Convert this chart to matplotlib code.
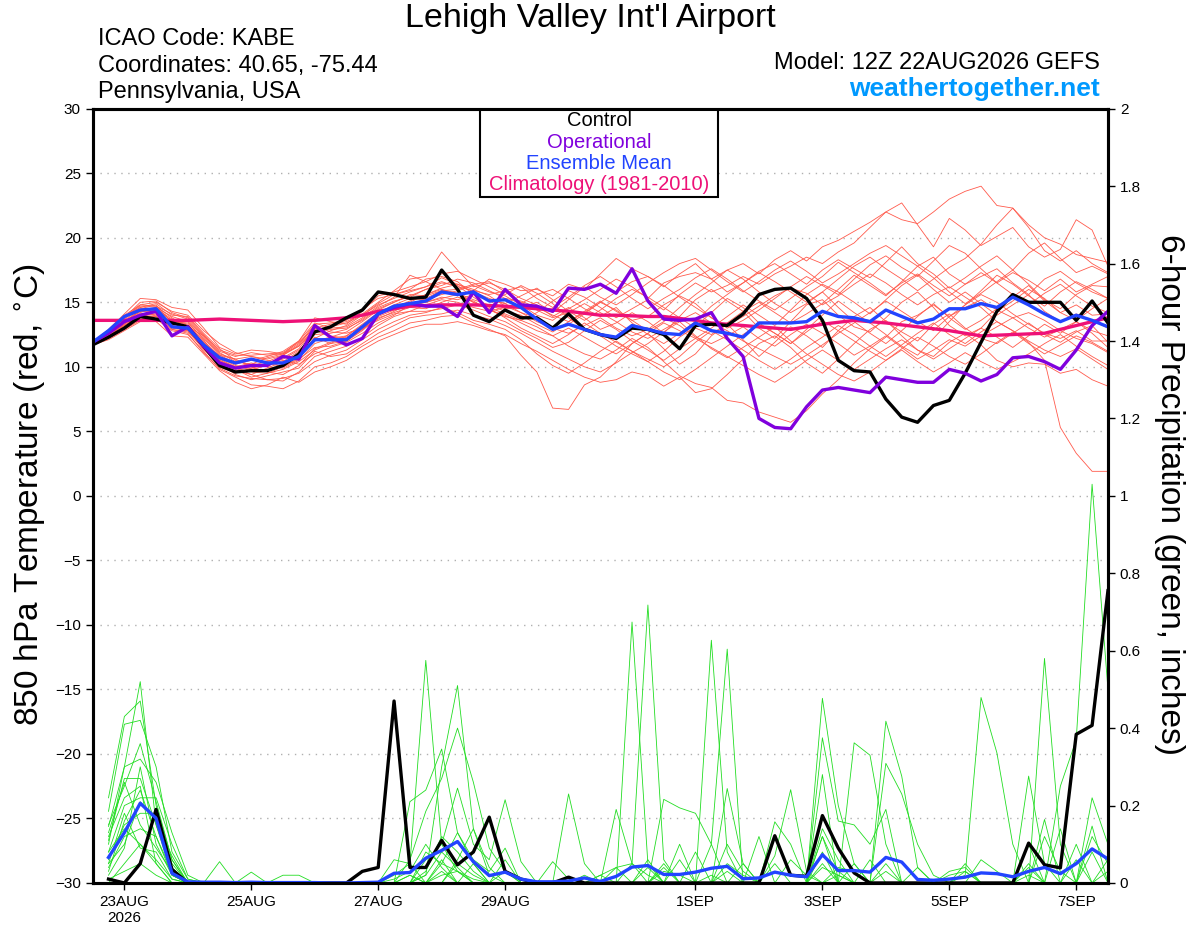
import numpy as np
import matplotlib
matplotlib.use('Agg')
import matplotlib.pyplot as plt
from matplotlib.patches import Rectangle
from matplotlib.ticker import FormatStrFormatter

plt.rcParams['font.family'] = ['Liberation Sans', 'DejaVu Sans']

# 6-hourly steps from 12Z 22AUG (x in days since then)
tick_days = [0.5, 2.5, 4.5, 6.5, 9.5, 11.5, 13.5, 15.5]
tick_labels = ['23AUG\n2026', '25AUG', '27AUG', '29AUG', '1SEP', '3SEP', '5SEP', '7SEP']

# 850 hPa temperature (C), 65 points: 22AUG 12Z .. 7SEP 12Z
control_t = [11.7, 12.3, 13.0, 13.9, 13.7, 13.4, 13.1, 11.6, 10.1, 9.6, 9.7, 9.7, 10.1,
             11.0, 12.7, 13.1, 13.8, 14.4, 15.8, 15.6, 15.3, 15.4, 17.5, 16.0, 14.0, 13.5,
             14.4, 13.8, 13.8, 13.0, 14.1, 12.9, 12.5, 12.2, 13.0, 12.9, 12.5, 11.4, 13.2,
             13.3, 13.2, 14.1, 15.6, 16.0, 16.1, 15.3, 13.6, 10.5, 9.7, 9.6, 7.5, 6.1,
             5.7, 7.0, 7.4, 9.5, 11.9, 14.3, 15.6, 15.0, 15.0, 15.0, 13.6, 15.1, 13.4]
oper_t = [11.9, 12.6, 13.5, 14.0, 14.3, 12.4, 13.1, 11.6, 10.3, 9.9, 10.1, 10.1, 10.8,
          10.6, 13.2, 12.3, 11.7, 12.2, 14.1, 14.6, 14.9, 14.7, 14.7, 13.9, 15.8, 14.2,
          16.0, 14.8, 14.7, 14.3, 16.1, 16.0, 16.4, 15.7, 17.6, 15.1, 13.7, 13.6, 13.7,
          14.2, 12.2, 10.8, 6.0, 5.3, 5.2, 6.9, 8.2, 8.4, 8.2, 8.0, 9.2, 9.0,
          8.8, 8.8, 9.8, 9.5, 8.9, 9.4, 10.7, 10.8, 10.4, 9.8, 11.3, 13.2, 14.3]
mean_t = [11.9, 12.8, 13.9, 14.4, 14.5, 13.1, 13.0, 11.7, 10.7, 10.3, 10.6, 10.3, 10.3,
          10.8, 12.1, 12.1, 12.1, 13.1, 14.1, 14.7, 14.9, 15.1, 15.8, 15.6, 15.8, 15.1,
          15.2, 14.6, 13.7, 12.9, 13.3, 12.9, 12.5, 12.3, 13.2, 12.9, 12.6, 12.5, 13.4,
          12.8, 12.6, 12.3, 13.4, 13.4, 13.4, 13.5, 14.3, 13.9, 13.8, 13.5, 14.4, 13.9,
          13.4, 13.7, 14.5, 14.5, 14.9, 14.6, 15.4, 14.8, 14.1, 13.5, 14.0, 13.6, 13.1]
clim_t = [13.6, 13.6, 13.6, 13.6, 13.6, 13.6, 13.6, 13.65, 13.7, 13.65, 13.6, 13.55, 13.5,
          13.55, 13.6, 13.7, 13.8, 14.0, 14.3, 14.5, 14.7, 14.75, 14.8, 14.8, 14.8, 14.75,
          14.7, 14.6, 14.5, 14.4, 14.3, 14.15, 14.0, 14.0, 13.95, 13.9, 13.9, 13.75, 13.6,
          13.4, 13.3, 13.2, 13.1, 13.0, 12.9, 13.1, 13.3, 13.45, 13.6, 13.5, 13.4, 13.25,
          13.1, 12.95, 12.8, 12.6, 12.4, 12.45, 12.5, 12.55, 12.6, 12.9, 13.2, 13.5, 13.8]

member_t = [
    [11.8, 12.5, 13.6, 14.5, 14.8, 13.4, 13.0, 11.9, 10.6, 10.0, 10.3, 10.0, 9.9,
     10.5, 11.8, 12.2, 12.4, 13.3, 14.2, 14.8, 15.3, 15.2, 15.6, 15.9, 16.3, 15.8,
     15.5, 14.8, 14.0, 13.6, 14.5, 15.2, 16.0, 16.8, 16.2, 15.3, 16.5, 17.0, 17.3,
     16.8, 17.5, 18.0, 17.2, 18.3, 19.0, 18.2, 19.3, 19.8, 20.5, 21.2, 22.0, 21.4,
     21.1, 22.0, 23.0, 23.6, 24.0, 22.5, 22.3, 21.0, 20.0, 19.5, 18.7, 18.4, 18.1],
    [11.9, 12.6, 13.8, 15.0, 15.1, 14.2, 13.8, 12.5, 11.2, 10.8, 11.1, 10.9, 11.0,
     11.6, 13.0, 13.3, 13.5, 14.1, 15.0, 15.9, 16.8, 17.0, 18.9, 17.5, 16.2, 16.5,
     16.0, 15.3, 14.8, 13.9, 14.6, 13.8, 12.9, 13.4, 14.2, 13.5, 12.6, 13.9, 15.2,
     16.0, 15.1, 14.3, 13.0, 12.2, 13.5, 14.8, 15.2, 14.0, 13.1, 12.7, 13.8, 15.0,
     15.8, 14.6, 13.2, 12.4, 13.0, 14.3, 15.1, 16.0, 15.3, 14.2, 13.6, 14.5, 15.3],
    [11.7, 12.2, 12.9, 13.6, 13.7, 12.8, 12.5, 11.2, 9.8, 9.2, 8.6, 8.5, 8.3,
     8.9, 10.0, 10.3, 10.8, 11.6, 12.3, 12.8, 13.4, 13.6, 13.9, 14.0, 13.4, 12.9,
     12.4, 10.9, 9.6, 6.8, 6.7, 8.6, 9.2, 10.4, 11.8, 12.6, 11.4, 10.2, 11.0,
     12.4, 13.3, 12.1, 10.8, 11.9, 13.1, 12.4, 11.5, 12.8, 13.9, 14.6, 13.5, 12.7,
     12.0, 13.3, 14.1, 13.0, 12.2, 11.8, 12.6, 13.4, 12.5, 11.9, 12.7, 13.2, 11.9],
    [11.8, 12.4, 13.3, 14.2, 14.6, 13.9, 13.5, 12.1, 10.4, 9.7, 9.4, 9.9, 10.4,
     11.2, 12.5, 12.6, 12.9, 13.7, 14.6, 15.1, 15.4, 16.0, 16.5, 16.3, 15.4, 14.6,
     14.1, 13.6, 13.1, 12.4, 11.6, 11.0, 10.6, 11.3, 12.2, 11.5, 10.4, 9.3, 8.7,
     8.4, 7.4, 7.2, 6.5, 6.1, 5.7, 6.6, 7.9, 9.0, 10.3, 11.4, 12.3, 13.5,
     14.0, 14.8, 13.9, 14.6, 15.2, 14.4, 13.8, 14.2, 13.6, 12.8, 12.2, 11.8, 11.1],
    [12.0, 12.7, 13.9, 14.6, 14.2, 13.2, 12.9, 11.4, 10.0, 9.5, 9.9, 10.2, 10.6,
     11.3, 12.3, 11.8, 12.0, 12.8, 13.9, 14.4, 14.7, 15.0, 15.4, 15.2, 15.6, 15.2,
     14.9, 14.2, 13.8, 12.9, 13.3, 14.1, 15.0, 14.4, 13.6, 13.9, 14.8, 15.5, 14.9,
     13.8, 13.2, 13.9, 14.7, 15.5, 16.1, 15.7, 14.8, 15.5, 16.4, 17.2, 16.5, 15.6,
     14.8, 15.6, 16.2, 15.4, 14.6, 13.5, 12.8, 11.9, 10.5, 5.3, 3.3, 1.9, 1.9],
    [11.8, 12.3, 13.2, 14.0, 14.1, 13.0, 12.8, 11.7, 10.9, 10.6, 10.8, 10.6, 10.9,
     11.7, 13.2, 12.7, 12.6, 13.0, 13.8, 14.2, 14.6, 14.5, 15.0, 15.4, 15.1, 14.4,
     13.9, 13.6, 14.2, 15.1, 15.9, 15.4, 14.6, 13.8, 14.5, 15.2, 14.4, 15.6, 16.5,
     15.8, 16.3, 17.0, 16.4, 17.2, 17.8, 18.5, 18.0, 18.9, 19.6, 20.8, 22.0, 22.7,
     21.0, 19.3, 21.5, 20.6, 19.4, 20.1, 20.8, 19.3, 18.5, 19.1, 21.4, 20.6, 17.8],
    [11.9, 12.9, 14.1, 15.3, 15.2, 14.6, 14.4, 13.0, 11.5, 11.0, 11.3, 11.2, 11.0,
     12.0, 13.8, 13.5, 13.3, 14.3, 15.5, 15.8, 16.2, 16.6, 17.2, 17.4, 16.8, 16.2,
     15.6, 16.3, 15.7, 14.9, 13.8, 12.9, 12.4, 11.6, 11.0, 10.4, 11.2, 12.3, 13.1,
     14.2, 15.3, 14.6, 13.4, 12.6, 11.8, 12.9, 14.0, 15.1, 14.2, 13.4, 12.5, 11.6,
     10.9, 12.2, 13.5, 14.8, 15.9, 17.1, 16.4, 15.5, 14.7, 15.8, 16.6, 16.0, 15.3],
    [11.7, 12.1, 12.8, 13.5, 13.5, 12.4, 12.3, 11.0, 9.7, 8.8, 8.3, 8.6, 9.2,
     8.8, 9.6, 10.0, 10.5, 11.3, 12.0, 12.5, 13.0, 13.3, 13.3, 13.5, 13.2, 12.8,
     12.5, 11.8, 11.2, 10.5, 9.8, 9.2, 8.8, 9.0, 9.6, 9.3, 8.5, 9.2, 8.0,
     8.3, 9.4, 10.6, 11.8, 12.4, 11.5, 10.3, 9.5, 10.6, 11.8, 12.9, 13.6, 12.4,
     11.3, 10.8, 11.9, 12.6, 11.7, 10.5, 10.0, 10.3, 10.2, 9.5, 9.8, 9.0, 8.5],
    [11.8, 12.5, 13.5, 14.3, 14.4, 13.6, 13.3, 12.0, 10.8, 10.2, 10.5, 10.8, 11.2,
     12.0, 13.4, 13.0, 13.1, 13.8, 14.7, 15.4, 17.1, 16.6, 16.0, 15.5, 15.9, 16.8,
     16.4, 15.9, 16.0, 15.5, 16.4, 16.0, 17.2, 18.4, 17.6, 17.0, 16.3, 15.4, 14.6,
     13.8, 13.0, 13.6, 14.4, 15.3, 16.2, 17.0, 16.3, 15.6, 16.8, 17.9, 18.6, 17.7,
     17.0, 18.2, 19.4, 18.8, 17.6, 16.5, 17.3, 16.7, 15.9, 16.8, 15.8, 16.4, 17.0],
    [11.9, 12.4, 13.1, 13.8, 14.0, 13.3, 13.6, 12.3, 11.0, 10.6, 10.0, 9.6, 9.4,
     10.1, 11.4, 11.9, 12.3, 13.0, 13.6, 14.1, 14.3, 14.8, 15.2, 15.0, 14.6, 14.3,
     14.6, 14.9, 15.6, 16.0, 15.3, 14.5, 13.9, 14.6, 13.4, 12.5, 11.8, 12.6, 13.5,
     14.7, 15.6, 16.5, 17.4, 18.0, 17.2, 16.4, 17.5, 18.3, 17.6, 16.9, 18.1, 19.3,
     18.0, 17.2, 16.1, 16.9, 17.8, 18.6, 17.5, 18.8, 19.6, 18.4, 17.3, 17.8, 17.2],
    [11.8, 12.6, 13.7, 14.6, 14.9, 14.0, 13.9, 12.6, 11.4, 10.5, 10.1, 10.4, 10.9,
     11.6, 12.8, 12.4, 12.2, 12.9, 14.0, 14.6, 15.0, 15.6, 16.1, 16.4, 16.0, 15.5,
     14.7, 14.2, 13.5, 13.0, 12.6, 13.2, 13.8, 13.0, 12.4, 12.9, 13.8, 13.2, 12.3,
     11.8, 12.4, 13.1, 12.2, 11.6, 12.5, 13.3, 12.6, 11.8, 10.9, 11.6, 12.4, 11.5,
     10.6, 11.3, 12.1, 11.6, 12.4, 13.1, 13.8, 13.0, 12.3, 12.9, 13.5, 12.6, 11.5],
    [11.7, 12.3, 13.4, 14.3, 14.3, 12.9, 12.7, 11.5, 10.2, 9.9, 9.4, 9.0, 8.9,
     9.6, 10.8, 11.2, 11.6, 12.3, 13.2, 13.9, 14.3, 14.3, 14.5, 14.8, 14.4, 13.9,
     13.5, 12.8, 12.2, 11.5, 11.9, 12.8, 13.6, 12.9, 12.0, 11.3, 10.5, 11.4, 12.2,
     13.0, 13.9, 14.8, 14.0, 13.2, 14.4, 15.6, 16.4, 15.8, 15.0, 14.1, 15.2, 16.3,
     17.1, 16.0, 15.0, 15.8, 14.9, 14.0, 14.8, 15.6, 14.3, 13.5, 14.1, 13.6, 13.0],
    [11.9, 12.8, 14.0, 14.8, 14.7, 13.8, 13.0, 11.8, 10.5, 10.0, 9.8, 10.1, 10.5,
     10.2, 11.0, 11.5, 11.9, 12.6, 13.4, 14.0, 14.8, 15.3, 15.9, 15.7, 15.2, 14.8,
     14.3, 14.0, 13.3, 12.7, 13.5, 14.3, 15.1, 14.3, 13.6, 12.8, 13.5, 14.6, 15.6,
     16.5, 17.5, 16.8, 15.8, 14.9, 14.2, 14.9, 15.8, 14.6, 13.5, 12.6, 11.8, 12.8,
     13.9, 14.9, 13.8, 12.9, 13.6, 14.5, 15.4, 16.3, 15.1, 14.2, 14.8, 14.0, 14.1],
    [11.8, 12.2, 13.0, 13.9, 13.9, 13.1, 12.8, 11.3, 10.3, 9.4, 9.0, 9.3, 9.6,
     9.9, 11.2, 10.8, 11.0, 11.8, 12.6, 13.2, 13.8, 14.0, 14.1, 14.4, 14.0, 13.7,
     13.2, 12.6, 11.9, 11.2, 10.6, 10.0, 9.6, 10.3, 11.1, 11.8, 12.7, 13.5, 12.4,
     11.4, 10.7, 11.5, 12.3, 13.1, 12.0, 11.0, 10.2, 9.4, 8.9, 9.6, 10.5, 11.3,
     10.4, 9.6, 10.3, 11.1, 10.4, 9.8, 10.4, 11.0, 11.8, 12.5, 11.6, 10.8, 10.1],
    [11.9, 12.7, 13.8, 14.8, 15.0, 14.3, 14.0, 12.8, 11.8, 11.1, 10.8, 10.5, 10.3,
     11.0, 12.2, 12.8, 13.2, 14.0, 14.9, 15.6, 16.0, 16.8, 17.0, 16.6, 15.6, 15.1,
     14.5, 14.6, 15.0, 14.2, 15.2, 16.2, 15.4, 14.8, 15.6, 16.5, 17.3, 18.0, 18.4,
     17.5, 16.6, 15.8, 16.6, 17.5, 18.2, 17.4, 16.5, 17.2, 18.0, 18.8, 19.4, 18.6,
     17.8, 18.5, 17.2, 16.4, 17.0, 17.6, 16.5, 15.6, 16.8, 17.4, 16.5, 15.8, 15.3],
    [11.8, 12.4, 13.3, 14.1, 14.2, 13.5, 13.4, 12.2, 10.9, 10.3, 10.6, 10.3, 10.0,
     10.7, 12.0, 12.3, 12.7, 13.5, 14.4, 15.0, 15.6, 15.5, 15.9, 16.0, 16.4, 16.6,
     15.8, 15.0, 14.4, 13.8, 14.2, 14.9, 14.2, 13.5, 12.7, 12.2, 12.9, 13.6, 14.2,
     13.4, 12.8, 12.0, 11.4, 10.8, 10.2, 10.9, 11.7, 12.6, 13.4, 14.2, 15.1, 14.3,
     13.5, 12.8, 13.9, 14.8, 15.6, 15.0, 14.1, 13.3, 12.6, 12.2, 12.8, 12.0, 12.0],
    [11.8, 12.6, 13.5, 14.4, 14.5, 13.7, 13.2, 11.9, 10.7, 10.1, 9.9, 10.3, 10.7,
     11.4, 12.9, 13.1, 13.4, 14.0, 14.8, 15.3, 15.8, 16.2, 16.9, 16.4, 15.8, 15.3,
     14.9, 15.5, 16.1, 15.2, 14.3, 13.6, 14.4, 15.3, 16.0, 15.4, 14.6, 13.8, 13.0,
     12.5, 13.4, 14.3, 15.0, 14.2, 13.4, 14.1, 14.9, 16.0, 17.1, 16.3, 15.5, 16.6,
     17.8, 16.9, 15.8, 14.9, 15.7, 16.6, 17.5, 16.4, 15.2, 14.5, 15.6, 16.3, 16.2],
    [11.7, 12.3, 13.1, 13.9, 14.1, 13.3, 13.2, 11.8, 10.4, 9.8, 9.2, 9.5, 10.0,
     10.6, 11.5, 11.6, 12.0, 12.9, 13.7, 14.3, 14.9, 15.0, 15.3, 15.6, 15.0, 14.5,
     13.8, 13.0, 12.4, 11.8, 12.5, 13.4, 12.6, 11.9, 11.2, 10.6, 10.0, 10.8, 11.9,
     12.8, 12.1, 11.3, 10.5, 9.8, 10.6, 11.5, 12.3, 13.2, 12.5, 11.6, 10.8, 11.7,
     12.6, 13.4, 12.5, 11.8, 12.7, 13.5, 12.8, 12.0, 11.3, 10.8, 11.4, 10.6, 9.8],
    [11.9, 12.5, 13.4, 14.4, 14.6, 13.5, 13.1, 12.4, 11.3, 10.9, 10.9, 11.0, 11.1,
     11.9, 13.0, 12.9, 13.0, 13.6, 14.5, 15.0, 15.5, 16.0, 16.3, 16.8, 16.5, 15.9,
     15.3, 15.1, 14.6, 14.0, 13.5, 14.2, 15.0, 15.8, 16.6, 17.0, 16.2, 17.2, 18.0,
     16.8, 15.8, 16.5, 17.3, 16.6, 15.8, 15.0, 15.8, 16.8, 17.8, 18.5, 17.6, 16.8,
     15.9, 16.8, 17.7, 18.4, 19.5, 21.0, 22.3, 20.8, 19.0, 18.2, 19.0, 18.0, 17.3],
    [11.8, 12.2, 12.9, 13.7, 13.9, 12.9, 12.6, 11.1, 9.9, 9.3, 9.1, 9.0, 9.1,
     9.5, 10.4, 10.9, 11.3, 12.1, 12.9, 13.5, 14.0, 14.2, 14.6, 14.2, 13.6, 13.3,
     12.9, 12.1, 11.0, 10.1, 9.5, 10.3, 11.2, 12.0, 11.2, 10.4, 9.6, 9.0, 9.8,
     10.7, 11.6, 12.5, 13.3, 12.6, 11.8, 12.7, 13.6, 12.8, 12.0, 11.2, 10.5, 11.4,
     12.3, 11.6, 10.8, 10.2, 11.0, 11.9, 12.7, 11.8, 11.0, 11.7, 12.4, 11.9, 11.2],
    [11.9, 12.7, 13.9, 14.7, 14.7, 14.1, 13.7, 12.4, 11.1, 10.4, 10.2, 10.7, 11.0,
     11.8, 13.3, 13.4, 13.6, 14.5, 15.3, 15.6, 15.9, 16.2, 16.6, 16.2, 15.9, 15.6,
     15.9, 16.2, 15.3, 14.6, 15.4, 16.3, 17.0, 16.2, 15.3, 14.5, 15.3, 16.0, 16.9,
     17.6, 16.8, 15.9, 15.1, 14.4, 15.3, 16.2, 17.0, 18.1, 17.3, 16.5, 15.6, 16.5,
     17.2, 16.3, 15.5, 16.4, 17.3, 16.5, 15.6, 14.8, 15.7, 16.4, 15.5, 14.7, 14.2],
    [11.8, 12.4, 13.2, 14.0, 14.3, 13.2, 12.9, 11.6, 10.5, 9.9, 9.6, 9.5, 9.8,
     10.4, 11.3, 11.8, 12.4, 13.2, 14.1, 14.6, 15.1, 15.6, 16.0, 15.7, 15.0, 14.4,
     14.0, 13.4, 12.8, 12.4, 13.0, 12.3, 11.6, 11.0, 11.8, 12.6, 13.4, 12.8, 12.2,
     11.5, 10.8, 10.1, 9.4, 8.8, 9.6, 10.5, 11.3, 10.5, 9.8, 10.6, 11.4, 12.1,
     11.3, 10.6, 11.4, 12.2, 13.0, 12.3, 11.5, 12.4, 13.3, 12.6, 13.5, 12.8, 12.4],
]

# 6-hour precipitation (inches), 64 points: 22AUG 18Z .. 7SEP 12Z
control_p = [0.01, 0.0, 0.05, 0.19, 0.035, 0.0, 0, 0, 0, 0, 0, 0, 0, 0, 0, 0,
             0.03, 0.04, 0.47, 0.04, 0.04, 0.11, 0.047, 0.08, 0.17, 0.03, 0.01, 0, 0, 0.015, 0, 0,
             0, 0, 0, 0, 0, 0, 0, 0, 0, 0, 0.122, 0.02, 0.017, 0.174, 0.09, 0.026,
             0, 0, 0, 0, 0, 0, 0, 0, 0, 0, 0.103, 0.047, 0.039, 0.384, 0.407, 0.755]
mean_p = [0.066, 0.13, 0.206, 0.167, 0.025, 0.003, 0.002, 0.002, 0.001, 0.002, 0.001, 0.001, 0.001, 0.001, 0.0, 0.0,
          0.001, 0.002, 0.025, 0.027, 0.064, 0.084, 0.107, 0.055, 0.019, 0.028, 0.01, 0.003, 0.003, 0.005, 0.013, 0.004,
          0.017, 0.041, 0.045, 0.022, 0.022, 0.028, 0.038, 0.043, 0.011, 0.013, 0.028, 0.02, 0.016, 0.073, 0.032, 0.032,
          0.028, 0.066, 0.054, 0.009, 0.007, 0.01, 0.015, 0.026, 0.024, 0.016, 0.03, 0.04, 0.024, 0.05, 0.088, 0.062]

member_p = [
    [0.10, 0.30, 0.52, 0.15, 0.02, 0, 0, 0, 0, 0, 0, 0, 0, 0, 0, 0,
     0, 0, 0.02, 0.05, 0.575, 0.10, 0.03, 0, 0, 0, 0, 0, 0, 0, 0, 0,
     0, 0.674, 0.05, 0, 0, 0, 0.02, 0, 0, 0, 0, 0, 0, 0.12, 0.03, 0,
     0, 0, 0, 0, 0, 0, 0.02, 0.479, 0.336, 0.1, 0, 0, 0, 0, 0, 0],
    [0.22, 0.43, 0.47, 0.20, 0.06, 0, 0, 0, 0, 0, 0, 0, 0, 0, 0, 0,
     0, 0, 0, 0.21, 0.24, 0.346, 0.13, 0.05, 0, 0, 0, 0, 0, 0, 0, 0.02,
     0.04, 0.05, 0.718, 0.06, 0, 0, 0, 0, 0, 0, 0, 0, 0, 0.477, 0.2, 0.05,
     0, 0, 0, 0, 0, 0, 0, 0, 0, 0, 0, 0.58, 0.1, 0, 0, 0],
    [0.185, 0.41, 0.42, 0.30, 0.08, 0.01, 0, 0, 0, 0, 0, 0, 0, 0, 0, 0,
     0, 0, 0, 0, 0.02, 0.30, 0.51, 0.14, 0.02, 0, 0, 0, 0, 0.23, 0.05, 0,
     0, 0, 0, 0, 0, 0, 0.627, 0.08, 0, 0, 0, 0, 0, 0.05, 0, 0.362,
     0.33, 0.1, 0, 0, 0, 0, 0, 0, 0, 0, 0.276, 0.05, 0, 0, 0.147, 0],
    [0.146, 0.30, 0.32, 0.26, 0.13, 0.02, 0, 0, 0, 0, 0, 0, 0, 0, 0, 0,
     0, 0, 0, 0.06, 0.185, 0.27, 0.40, 0.26, 0.09, 0.03, 0, 0, 0, 0, 0, 0,
     0, 0, 0, 0.216, 0.194, 0.18, 0.1, 0.604, 0, 0, 0, 0, 0, 0, 0, 0,
     0, 0.418, 0.276, 0.04, 0, 0, 0, 0, 0, 0, 0, 0, 0.25, 0.37, 1.03, 0.5],
    [0.11, 0.27, 0.27, 0.15, 0.04, 0, 0, 0.055, 0, 0.028, 0, 0, 0, 0, 0, 0,
     0, 0, 0, 0, 0.06, 0.10, 0.245, 0.10, 0.06, 0.215, 0.055, 0, 0, 0, 0, 0,
     0.19, 0.05, 0.02, 0, 0, 0, 0, 0.244, 0.05, 0, 0.07, 0.241, 0.03, 0, 0, 0,
     0, 0.309, 0.23, 0.1, 0.02, 0, 0, 0, 0, 0, 0, 0.164, 0, 0, 0, 0],
    [0.08, 0.20, 0.22, 0.22, 0.10, 0.01, 0, 0, 0, 0, 0, 0.02, 0.02, 0, 0, 0,
     0, 0, 0.06, 0.05, 0, 0.05, 0.13, 0.06, 0.03, 0.09, 0, 0, 0.055, 0.01, 0, 0,
     0, 0.05, 0, 0, 0, 0, 0.1, 0, 0, 0, 0.158, 0.1, 0, 0.375, 0.16, 0.15,
     0.1, 0.19, 0, 0.04, 0, 0.03, 0.04, 0, 0, 0, 0.1, 0, 0.14, 0, 0, 0],
    [0.06, 0.15, 0.18, 0.18, 0.05, 0, 0, 0, 0, 0, 0, 0, 0, 0, 0, 0,
     0, 0, 0, 0, 0.08, 0.05, 0.03, 0, 0, 0.06, 0, 0, 0, 0, 0.02, 0,
     0, 0, 0, 0, 0.1, 0, 0, 0, 0, 0.12, 0, 0, 0, 0.28, 0, 0,
     0, 0, 0, 0, 0, 0, 0, 0, 0, 0, 0, 0, 0, 0, 0.22, 0.1],
    [0.04, 0.12, 0.14, 0.12, 0.03, 0, 0, 0, 0, 0, 0, 0, 0, 0, 0, 0,
     0, 0, 0, 0, 0, 0.03, 0, 0, 0, 0, 0, 0, 0, 0, 0, 0.02,
     0, 0, 0, 0.04, 0, 0.08, 0, 0, 0.05, 0, 0, 0, 0, 0.12, 0, 0,
     0, 0.05, 0, 0, 0, 0, 0, 0, 0, 0, 0, 0, 0, 0.1, 0, 0],
    [0.02, 0.09, 0.30, 0.10, 0.02, 0, 0, 0, 0, 0, 0, 0, 0, 0, 0, 0,
     0, 0, 0, 0.02, 0, 0, 0.06, 0.14, 0.04, 0, 0, 0, 0, 0, 0, 0,
     0, 0, 0.06, 0, 0, 0, 0, 0, 0, 0, 0, 0, 0, 0, 0, 0,
     0, 0, 0, 0, 0, 0, 0, 0, 0, 0, 0, 0, 0, 0, 0, 0.03],
    [0.15, 0.25, 0.36, 0.21, 0.06, 0, 0, 0, 0, 0, 0, 0, 0, 0, 0, 0,
     0, 0, 0.01, 0.03, 0.1, 0.04, 0, 0, 0, 0, 0, 0, 0, 0, 0, 0,
     0, 0, 0, 0, 0, 0, 0, 0, 0, 0, 0, 0, 0, 0, 0, 0,
     0, 0, 0, 0, 0, 0, 0, 0, 0, 0, 0, 0, 0, 0, 0, 0],
    [0.05, 0.18, 0.09, 0.08, 0.01, 0, 0, 0, 0, 0, 0, 0, 0, 0, 0, 0,
     0, 0, 0, 0, 0, 0, 0.05, 0.02, 0, 0, 0, 0, 0, 0, 0, 0,
     0, 0, 0, 0, 0, 0, 0, 0.05, 0.02, 0, 0, 0, 0, 0, 0, 0.05,
     0, 0, 0, 0, 0, 0, 0.05, 0, 0, 0, 0, 0, 0, 0, 0, 0],
    [0, 0.05, 0.10, 0.05, 0, 0, 0, 0, 0, 0, 0, 0, 0, 0, 0, 0,
     0, 0, 0, 0, 0, 0.02, 0.03, 0.01, 0, 0, 0, 0, 0, 0, 0, 0,
     0, 0, 0, 0.03, 0.02, 0, 0, 0, 0, 0, 0, 0, 0, 0, 0.02, 0,
     0, 0, 0, 0, 0, 0.02, 0.03, 0, 0, 0, 0.05, 0, 0, 0, 0, 0],
    [0.12, 0.22, 0.25, 0.05, 0, 0, 0, 0, 0, 0, 0, 0, 0, 0, 0, 0,
     0, 0, 0, 0, 0.03, 0.12, 0.08, 0.03, 0, 0, 0, 0, 0, 0, 0, 0,
     0, 0, 0, 0, 0, 0, 0, 0, 0, 0, 0, 0, 0, 0.04, 0.02, 0,
     0, 0, 0, 0, 0, 0, 0, 0, 0, 0, 0, 0, 0, 0, 0.08, 0],
    [0.01, 0.03, 0.05, 0.02, 0, 0, 0, 0, 0, 0, 0, 0, 0, 0, 0, 0,
     0, 0, 0, 0, 0, 0, 0, 0, 0, 0, 0, 0, 0, 0, 0, 0,
     0, 0, 0, 0, 0, 0, 0, 0.03, 0, 0, 0, 0, 0, 0, 0, 0,
     0, 0, 0, 0, 0, 0, 0, 0, 0, 0, 0, 0, 0, 0, 0, 0],
    [0.03, 0.16, 0.24, 0.12, 0.02, 0, 0, 0, 0, 0, 0, 0, 0, 0, 0, 0,
     0, 0, 0, 0, 0, 0, 0, 0, 0, 0, 0, 0, 0, 0, 0, 0,
     0.04, 0, 0, 0, 0.06, 0, 0, 0, 0, 0, 0.05, 0, 0, 0.14, 0.06, 0,
     0, 0.03, 0, 0, 0, 0, 0, 0, 0, 0, 0.04, 0, 0, 0.06, 0, 0],
    [0.08, 0.14, 0.10, 0.06, 0.01, 0, 0, 0, 0, 0, 0, 0, 0, 0, 0, 0,
     0, 0, 0, 0, 0.02, 0.08, 0.04, 0, 0, 0, 0, 0, 0, 0, 0, 0,
     0, 0, 0, 0, 0, 0, 0, 0.1, 0.03, 0, 0, 0, 0, 0.08, 0, 0,
     0.06, 0, 0, 0, 0, 0, 0, 0, 0, 0, 0, 0.12, 0.03, 0, 0, 0.06],
    [0.05, 0.10, 0.21, 0.16, 0.07, 0, 0, 0, 0, 0, 0, 0, 0, 0, 0, 0,
     0, 0, 0, 0, 0, 0, 0, 0.05, 0, 0, 0, 0, 0, 0, 0, 0,
     0, 0, 0.04, 0, 0, 0, 0, 0, 0, 0, 0, 0.06, 0.02, 0, 0, 0,
     0, 0, 0, 0, 0, 0, 0, 0.06, 0.03, 0, 0, 0, 0, 0, 0.12, 0.05],
    [0.13, 0.26, 0.15, 0.09, 0.03, 0, 0, 0, 0, 0, 0, 0, 0, 0, 0, 0,
     0, 0, 0, 0.02, 0, 0.06, 0, 0, 0, 0.03, 0, 0, 0, 0, 0, 0,
     0, 0, 0, 0.05, 0, 0, 0, 0, 0, 0, 0, 0, 0, 0, 0.04, 0.03,
     0, 0, 0, 0, 0, 0, 0.03, 0, 0, 0, 0.02, 0, 0, 0, 0, 0],
]

t_days = np.arange(len(control_t)) * 0.25
p_days = np.arange(1, len(control_p) + 1) * 0.25

fig = plt.figure(figsize=(12, 9.27), dpi=100)
ax = fig.add_axes([0.0772, 0.0475, 0.8461, 0.8352])
ax2 = ax.twinx()

# temperature
for m in member_t:
    ax.plot(t_days, m, color='#ff5a4c', lw=0.6, zorder=2)
ax.plot(t_days, clim_t, color='#ee1177', lw=2.4, zorder=3)
ax.plot(t_days, control_t, color='black', lw=2.4, zorder=4)
ax.plot(t_days, oper_t, color='#8000dd', lw=2.4, zorder=5)
ax.plot(t_days, mean_t, color='#2244ff', lw=2.4, zorder=6)

# precipitation on right axis
for m in member_p:
    ax2.plot(p_days, m, color='#22dd22', lw=0.6)
ax2.plot(p_days, control_p, color='black', lw=2.4)
ax2.plot(p_days, mean_p, color='#2244ff', lw=2.4)

ax.set_xlim(0, 16)
ax.set_ylim(-30, 30)
ax2.set_ylim(0, 2)
ax.set_yticks(np.arange(-30, 31, 5))
ax2.set_yticks(np.arange(0, 2.01, 0.2))
ax2.yaxis.set_major_formatter(FormatStrFormatter('%g'))
ax.set_xticks(tick_days)
ax.set_xticklabels(tick_labels)

for y in range(-25, 30, 5):
    ax.axhline(y, color='#b0b0b0', lw=1.0, ls=(0, (1, 4)), zorder=1)

for a in (ax, ax2):
    for s in a.spines.values():
        s.set_linewidth(2.2)
    a.tick_params(labelsize=11, width=1, length=5, direction='out')

# legend box
ax.add_patch(Rectangle((0.3815, 0.886), 0.2345, 0.114, transform=ax.transAxes,
                       facecolor='white', edgecolor='black', lw=1.5, zorder=10))
legend_items = [('Control', 'black'), ('Operational', '#8000dd'),
                ('Ensemble Mean', '#2244ff'), ('Climatology (1981-2010)', '#ee1177')]
for k, (txt, col) in enumerate(legend_items):
    ax.text(0.499, 0.9845 - k * 0.0275, txt, color=col, fontsize=14.5,
            ha='center', va='center', transform=ax.transAxes, zorder=11)

# header text
fig.text(590 / 1200, 1 - 18 / 927, "Lehigh Valley Int'l Airport", fontsize=24.5,
         ha='center', va='center')
fig.text(98 / 1200, 1 - 39 / 927, 'ICAO Code: KABE', fontsize=17, va='center')
fig.text(98 / 1200, 1 - 66 / 927, 'Coordinates: 40.65, -75.44', fontsize=17, va='center')
fig.text(98 / 1200, 1 - 92 / 927, 'Pennsylvania, USA', fontsize=17, va='center')
fig.text(1100 / 1200, 1 - 63 / 927, 'Model: 12Z 22AUG2026 GEFS', fontsize=17,
         ha='right', va='center')
fig.text(1100 / 1200, 1 - 89 / 927, 'weathertogether.net', fontsize=19,
         fontweight='bold', color='#0099ff', ha='right', va='center')

fig.text(30 / 1200, 1 - 495 / 927, '850 hPa Temperature (red, $^{\\circ}$C)',
         fontsize=24, rotation=90, ha='center', va='center')
fig.text(1170 / 1200, 1 - 495 / 927, '6-hour Precipitation (green, inches)',
         fontsize=24, rotation=270, ha='center', va='center')

plt.savefig('out.png', dpi=100)
